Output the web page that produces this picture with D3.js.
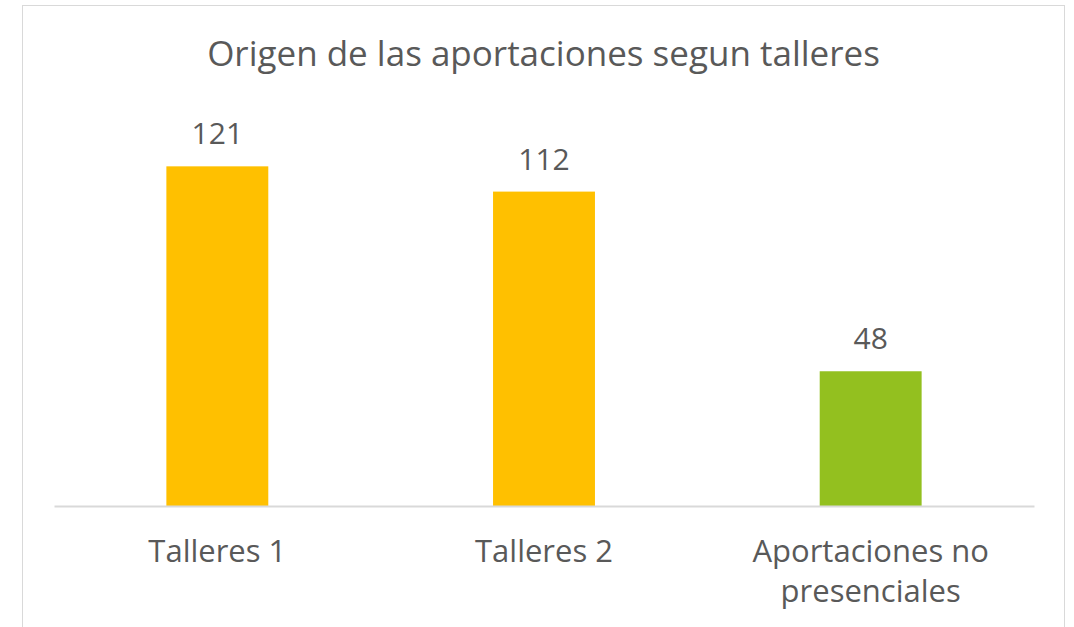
<!DOCTYPE html>
<html>
<head>
<meta charset="utf-8">
<script src="https://cdn.jsdelivr.net/npm/d3@7"></script>
<style>
  body { margin: 0; background: #fff; }
  text { font-family: "Open Sans", sans-serif; fill: #595959; }
</style>
</head>
<body>
<div id="chart"></div>
<script>
// Datos del grafico
var categorias = ["Talleres 1", "Talleres 2", "Aportaciones no presenciales"];
var etiquetas = [["Talleres 1"], ["Talleres 2"], ["Aportaciones no", "presenciales"]];
var valores = [121, 112, 48];
var colores = ["#FFC000", "#FFC000", "#93C01F"];
var titulo = "Origen de las aportaciones segun talleres";

var width = 1074;
var height = 627;

var svg = d3.select("#chart")
  .append("svg")
  .attr("width", width)
  .attr("height", height);

// Marco del grafico
svg.append("rect")
  .attr("x", 22.5)
  .attr("y", 5.5)
  .attr("width", 1042)
  .attr("height", 700)
  .style("fill", "#fff")
  .style("stroke", "#d9d9d9")
  .style("stroke-width", 1);

// Escalas
var x = d3.scaleBand()
  .domain(categorias)
  .range([54, 1034])
  .paddingInner(0.688)
  .paddingOuter(0.344);

var y = d3.scaleLinear()
  .domain([0, 140])
  .range([506, 113]);

// Titulo
svg.append("text")
  .attr("x", 543.5)
  .attr("y", 66)
  .attr("text-anchor", "middle")
  .style("font-size", "35px")
  .text(titulo);

// Barras
svg.selectAll("rect.barra")
  .data(valores)
  .enter()
  .append("rect")
  .attr("class", "barra")
  .attr("x", function(d, i) { return x(categorias[i]); })
  .attr("y", function(d) { return y(d); })
  .attr("width", x.bandwidth())
  .attr("height", function(d) { return y(0) - y(d); })
  .style("fill", function(d, i) { return colores[i]; });

// Etiquetas de datos
svg.selectAll("text.valor")
  .data(valores)
  .enter()
  .append("text")
  .attr("class", "valor")
  .attr("x", function(d, i) { return x(categorias[i]) + x.bandwidth() / 2; })
  .attr("y", function(d) { return y(d) - 22; })
  .attr("text-anchor", "middle")
  .style("font-size", "30px")
  .text(function(d) { return d; });

// Eje X
var ejeX = svg.append("g")
  .attr("transform", "translate(0," + y(0) + ")")
  .call(d3.axisBottom(x).tickSize(0).tickFormat(""));

ejeX.select(".domain")
  .attr("stroke", "#d9d9d9")
  .attr("stroke-width", 2);

ejeX.selectAll(".tick").each(function(d, i) {
  var t = d3.select(this).append("text")
    .attr("text-anchor", "middle")
    .style("font-size", "31px")
    .style("fill", "#595959");
  etiquetas[i].forEach(function(linea, j) {
    t.append("tspan")
      .attr("x", 0)
      .attr("y", 56 + j * 40)
      .text(linea);
  });
});
</script>
</body>
</html>
